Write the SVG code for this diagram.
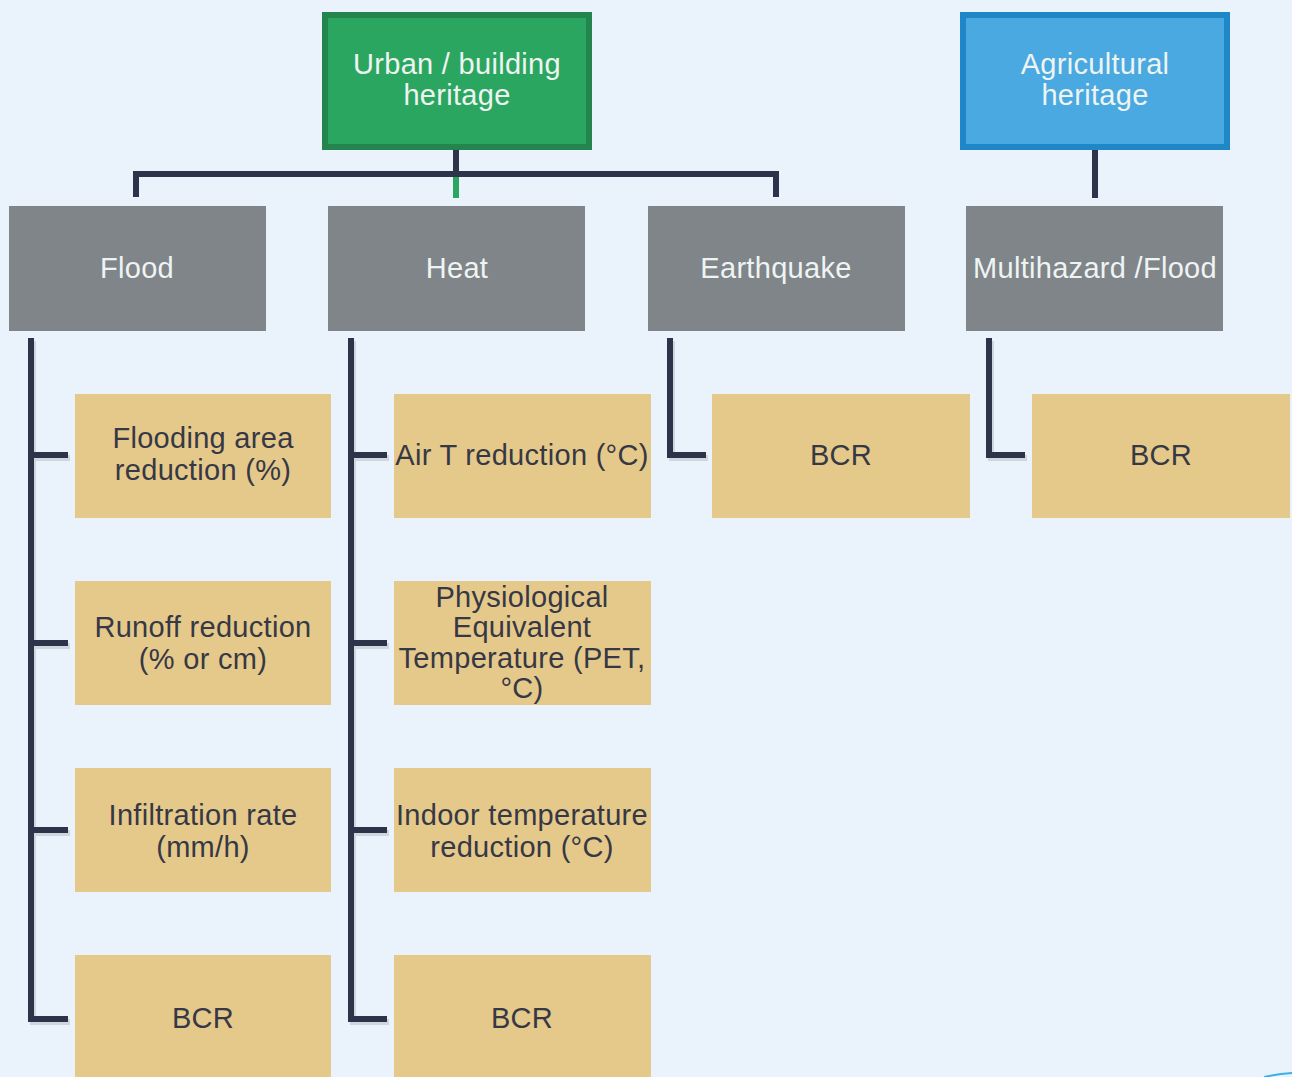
<svg xmlns="http://www.w3.org/2000/svg" width="1292" height="1077" viewBox="0 0 1292 1077">
<defs>
<style>
.bg{fill:#eaf3fb}
.root-u{fill:#2ba660;stroke:#23854d;stroke-width:6}
.root-a{fill:#4aa9e0;stroke:#1f87c7;stroke-width:6}
.hz{fill:#80858a}
.leaf{fill:#e5c98a}
.t{font-family:"Liberation Sans",Arial,sans-serif;font-size:29px;letter-spacing:0.3px;text-anchor:middle}
.tl{fill:#eef4f2}
.td{fill:#363845}
.ln{fill:none;stroke:#2d3349;stroke-width:6;stroke-linecap:butt;stroke-linejoin:miter}
.sh{fill:none;stroke:#9aa2ad;stroke-width:6;opacity:0.35}
</style>
</defs>
<rect class="bg" x="0" y="0" width="1292" height="1077"/>
<g id="connectors">
<g transform="translate(2,3)">
<path class="sh" d="M31 338 V1019 H68 M31 455 H68 M31 643 H68 M31 830 H68"/>
<path class="sh" d="M351 338 V1019 H387 M351 455 H387 M351 643 H387 M351 830 H387"/>
<path class="sh" d="M670 338 V455 H706"/>
<path class="sh" d="M989 338 V455 H1025"/>
</g>
<path class="ln" d="M456 150 V174 M136 197 V174 H776 V197"/>
<path d="M456 177 V198" fill="none" stroke="#2ba660" stroke-width="6"/>
<path class="ln" d="M1095 150 V198"/>
<path class="ln" d="M31 338 V1019 H68 M31 455 H68 M31 643 H68 M31 830 H68"/>
<path class="ln" d="M351 338 V1019 H387 M351 455 H387 M351 643 H387 M351 830 H387"/>
<path class="ln" d="M670 338 V455 H706"/>
<path class="ln" d="M989 338 V455 H1025"/>
</g>
<g id="urban">
<rect class="root-u" x="325" y="15" width="264" height="132"/>
<text class="t tl" x="457" y="74">Urban / building</text>
<text class="t tl" x="457" y="105">heritage</text>
</g>
<g id="agricultural">
<rect class="root-a" x="963" y="15" width="264" height="132"/>
<text class="t tl" x="1095" y="74">Agricultural</text>
<text class="t tl" x="1095" y="105">heritage</text>
</g>
<g id="flood">
<rect class="hz" x="9" y="206" width="257" height="125"/>
<text class="t tl" x="137" y="278">Flood</text>
</g>
<g id="heat">
<rect class="hz" x="328" y="206" width="257" height="125"/>
<text class="t tl" x="457" y="278">Heat</text>
</g>
<g id="earthquake">
<rect class="hz" x="648" y="206" width="257" height="125"/>
<text class="t tl" x="776" y="278">Earthquake</text>
</g>
<g id="multihazard">
<rect class="hz" x="966" y="206" width="257" height="125"/>
<text class="t tl" x="1095" y="278">Multihazard /Flood</text>
</g>
<g id="flooding-area">
<rect class="leaf" x="75" y="394" width="256" height="124"/>
<text class="t td" x="203" y="448">Flooding area</text>
<text class="t td" x="203" y="480">reduction (%)</text>
</g>
<g id="runoff">
<rect class="leaf" x="75" y="581" width="256" height="124"/>
<text class="t td" x="203" y="637">Runoff reduction</text>
<text class="t td" x="203" y="669">(% or cm)</text>
</g>
<g id="infiltration">
<rect class="leaf" x="75" y="768" width="256" height="124"/>
<text class="t td" x="203" y="825">Infiltration rate</text>
<text class="t td" x="203" y="857">(mm/h)</text>
</g>
<g id="bcr-flood">
<rect class="leaf" x="75" y="955" width="256" height="122"/>
<text class="t td" x="203" y="1028">BCR</text>
</g>
<g id="air-t">
<rect class="leaf" x="394" y="394" width="257" height="124"/>
<text class="t td" x="522" y="465">Air T reduction (°C)</text>
</g>
<g id="pet">
<rect class="leaf" x="394" y="581" width="257" height="124"/>
<text class="t td" x="522" y="607">Physiological</text>
<text class="t td" x="522" y="637">Equivalent</text>
<text class="t td" x="522" y="668">Temperature (PET,</text>
<text class="t td" x="522" y="698">°C)</text>
</g>
<g id="indoor">
<rect class="leaf" x="394" y="768" width="257" height="124"/>
<text class="t td" x="522" y="825">Indoor temperature</text>
<text class="t td" x="522" y="857">reduction (°C)</text>
</g>
<g id="bcr-heat">
<rect class="leaf" x="394" y="955" width="257" height="122"/>
<text class="t td" x="522" y="1028">BCR</text>
</g>
<g id="bcr-earthquake">
<rect class="leaf" x="712" y="394" width="258" height="124"/>
<text class="t td" x="841" y="465">BCR</text>
</g>
<g id="bcr-multihazard">
<rect class="leaf" x="1032" y="394" width="258" height="124"/>
<text class="t td" x="1161" y="465">BCR</text>
</g>
<path d="M1264 1077 Q1278 1074 1292 1073" fill="none" stroke="#3ab0e8" stroke-width="2"/>
</svg>
